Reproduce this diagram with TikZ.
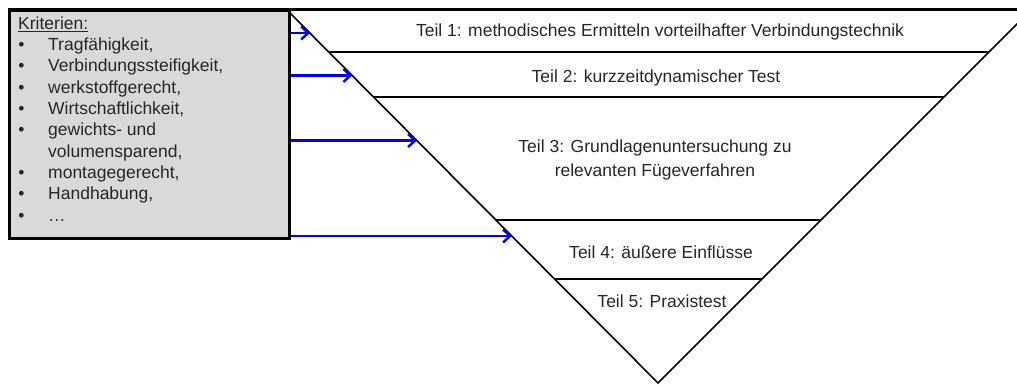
\documentclass[tikz,border=0pt]{standalone}
\usepackage{fontspec}
\setmainfont{Liberation Sans}
\usetikzlibrary{arrows.meta,calc}
\begin{document}
\begin{tikzpicture}[x=1pt,y=-1pt,
  txt/.style={font=\fontsize{17.5}{21.3}\selectfont, text=black!85, inner sep=0pt, anchor=base},
  ltxt/.style={txt, anchor=base west},
  bul/.style={txt},
  side/.style={line width=1.6pt},
  divider/.style={line width=2.3pt},
  arr/.style={draw=blue, line width=2.6pt, -{Straight Barb[length=7pt,width=13pt,line width=2.4pt]}}]
\useasboundingbox (0,0) rectangle (1017,385);
% triangle corners
\coordinate (tl) at (287,10);
\coordinate (tr) at (1031,10);
\coordinate (apex) at (658,383);
\begin{scope}
\clip (0,0) rectangle (1017,385);
\draw[side] (tl) -- (apex) -- (tr);
\end{scope}
% box
\node[draw=black, line width=2.5pt, fill=black!15, minimum width=280pt, minimum height=227pt, anchor=north west, inner sep=0pt] (box) at (8,10) {};
\draw[line width=3pt] (box.north west) -- (1017,10);
% dividers
\foreach \n/\t in {d1/0.1134, d2/0.2324, d3/0.5630, d4/0.7212} {
  \coordinate (\n l) at ($(tl)!\t!(apex)$);
  \coordinate (\n r) at ($(tr)!\t!(apex)$);
  \draw[divider] (\n l) -- (\n r);
}
% texts in the funnel
\node[txt] (t1) at (660,36.5) {Teil 1: methodisches Ermitteln vorteilhafter Verbindungstechnik};
\node[txt] (t2) at (656,83) {Teil 2: kurzzeitdynamischer Test};
\node[txt] (t3a) at (655,152.7) {Teil 3: Grundlagenuntersuchung zu};
\node[txt] (t3b) at (655,176.7) {relevanten Fügeverfahren};
\node[txt] (t4) at (661,258.3) {Teil 4: äußere Einflüsse};
\node[txt] (t5) at (662,307.7) {Teil 5: Praxistest};
% box texts
\node[ltxt] (k0) at (18,29.3) {\underline{Kriterien:}};
\foreach \i/\y/\s in {1/50.6/{Tragfähigkeit,},2/71.9/{Verbindungssteifigkeit,},3/93.2/{werkstoffgerecht,},4/114.5/{Wirtschaftlichkeit,},5/135.8/{gewichts- und},6/178.4/{montagegerecht,},7/199.7/{Handhabung,},8/221.0/{\dots}} {
  \node[bul] (b\i) at (21.5,\y) {•};
  \node[ltxt] (k\i) at (48,\y) {\s};
}
\node[ltxt] (k5b) at (48,157.1) {volumensparend,};
% arrows
\foreach \n/\t in {a1/0.0617, a2/0.1756, a3/0.3499, a4/0.6059} {
  \coordinate (\n) at ($(tl)!\t!(apex)$);
  \draw[arr] (box.east |- \n) -- (\n);
}
\end{tikzpicture}
\end{document}
